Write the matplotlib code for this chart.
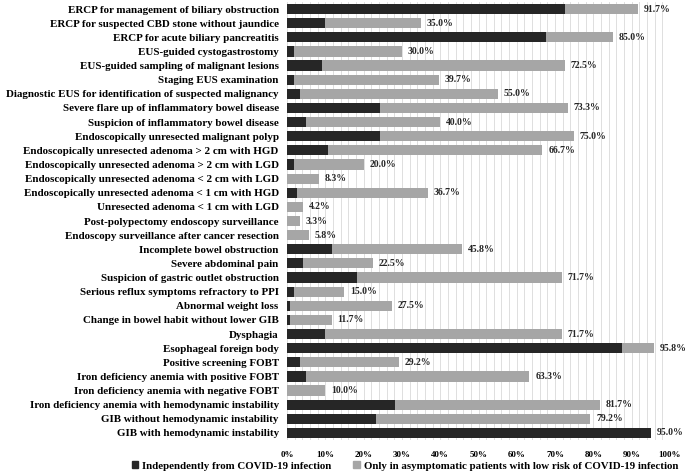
import matplotlib
matplotlib.use("Agg")
import matplotlib.pyplot as plt
from matplotlib.ticker import MultipleLocator, FuncFormatter
from matplotlib.patches import Patch

categories = [
    "ERCP for management of biliary obstruction",
    "ERCP for suspected CBD stone without jaundice",
    "ERCP for acute biliary pancreatitis",
    "EUS-guided cystogastrostomy",
    "EUS-guided sampling of malignant lesions",
    "Staging EUS examination",
    "Diagnostic EUS for identification of suspected malignancy",
    "Severe flare up of inflammatory bowel disease",
    "Suspicion of inflammatory bowel disease",
    "Endoscopically unresected malignant polyp",
    "Endoscopically unresected adenoma > 2 cm with HGD",
    "Endoscopically unresected adenoma > 2 cm with LGD",
    "Endoscopically unresected adenoma < 2 cm with LGD",
    "Endoscopically unresected adenoma < 1 cm with HGD",
    "Unresected adenoma < 1 cm with LGD",
    "Post-polypectomy endoscopy surveillance",
    "Endoscopy surveillance after cancer resection",
    "Incomplete bowel obstruction",
    "Severe abdominal pain",
    "Suspicion of gastric outlet obstruction",
    "Serious reflux symptoms refractory to PPI",
    "Abnormal weight loss",
    "Change in bowel habit without lower GIB",
    "Dysphagia",
    "Esophageal foreign body",
    "Positive screening FOBT",
    "Iron deficiency anemia with positive FOBT",
    "Iron deficiency anemia with negative FOBT",
    "Iron deficiency anemia with hemodynamic instability",
    "GIB without hemodynamic instability",
    "GIB with hemodynamic instability",
]

independent = [72.5, 10.0, 67.5, 1.7, 9.2, 1.7, 3.3, 24.2, 5.0, 24.2, 10.8, 1.7, 0.0, 2.5,
               0.0, 0.0, 0.0, 11.7, 4.2, 18.3, 1.7, 0.8, 0.8, 10.0, 87.5, 3.3, 5.0, 0.0,
               28.3, 23.3, 95.0]
totals = [91.7, 35.0, 85.0, 30.0, 72.5, 39.7, 55.0, 73.3, 40.0, 75.0, 66.7, 20.0, 8.3, 36.7,
          4.2, 3.3, 5.8, 45.8, 22.5, 71.7, 15.0, 27.5, 11.7, 71.7, 95.8, 29.2, 63.3, 10.0,
          81.7, 79.2, 95.0]
asymptomatic = [round(t - i, 1) for t, i in zip(totals, independent)]

series_names = ["Independently from COVID-19 infection",
                "Only in asymptomatic patients with low risk of COVID-19 infection"]
dark = "#262626"
gray = "#a6a6a6"

plt.rcParams['font.family'] = ['Liberation Serif', 'DejaVu Serif']
plt.rcParams['font.weight'] = 'bold'

fig = plt.figure(figsize=(6.85, 4.76), dpi=100)
ax = fig.add_axes([287/685, 1 - 440/476, (670-287)/685, 438/476])

y = list(range(len(categories)))
ax.barh(y, independent, height=0.72, color=dark, zorder=3)
ax.barh(y, asymptomatic, left=independent, height=0.72, color=gray, zorder=3)

for yi, t in zip(y, totals):
    ax.text(t + 1.5, yi, f"{t:.1f}%", va='center', ha='left', fontsize=7.0,
            fontweight='bold', color="#262626")

ax.set_xlim(0, 100)
ax.set_ylim(len(categories) - 0.5, -0.5)
ax.set_yticks(y)
ax.set_yticklabels(categories, fontsize=7.9, fontweight='bold')
ax.xaxis.set_major_locator(MultipleLocator(10))
ax.xaxis.set_minor_locator(MultipleLocator(2))
ax.xaxis.set_major_formatter(FuncFormatter(lambda v, p: f"{int(v)}%"))
ax.tick_params(axis='x', labelsize=6.5, length=0, which='both', pad=8)
ax.tick_params(axis='y', length=0, pad=6)
for lab in ax.get_xticklabels():
    lab.set_fontweight('bold')
ax.grid(axis='x', which='both', color='#d9d9d9', linewidth=0.6, zorder=0)
for s in ax.spines.values():
    s.set_visible(False)

handles = [Patch(color=dark), Patch(color=gray)]
fig.legend(handles, series_names, loc='center', bbox_to_anchor=(405/685, 1 - 466/476),
           ncol=2, frameon=False, fontsize=7.8, handlelength=0.6, handleheight=0.6,
           handletextpad=0.4, columnspacing=2.0)

fig.savefig("out.png", dpi=100)
